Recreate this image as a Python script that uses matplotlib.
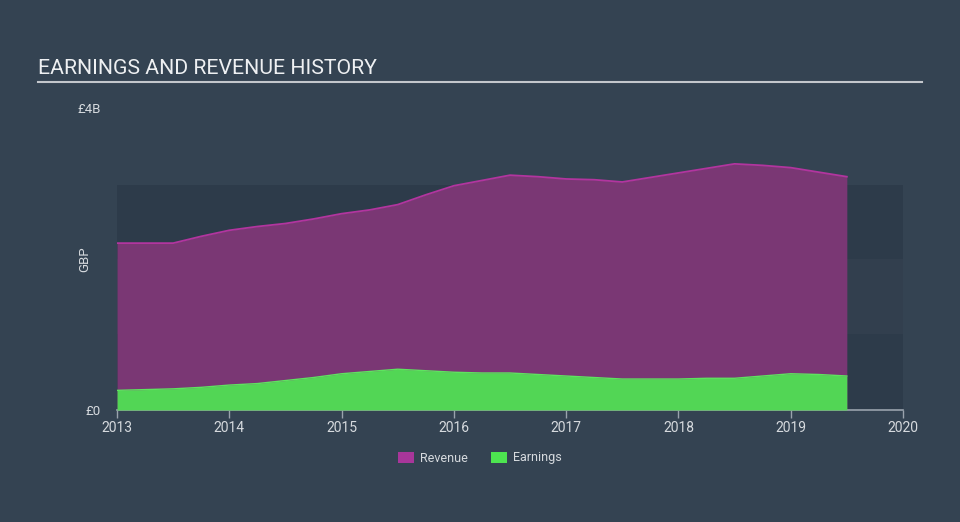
import matplotlib.pyplot as plt
from matplotlib.patches import Patch

# quarterly values, GBP billions
years = [2013.0, 2013.25, 2013.5, 2013.75, 2014.0, 2014.25, 2014.5, 2014.75,
         2015.0, 2015.25, 2015.5, 2015.75, 2016.0, 2016.25, 2016.5, 2016.75,
         2017.0, 2017.25, 2017.5, 2017.75, 2018.0, 2018.25, 2018.5, 2018.75,
         2019.0, 2019.25, 2019.5]
revenue = [2.21, 2.21, 2.21, 2.30, 2.38, 2.43, 2.47, 2.53,
           2.60, 2.65, 2.72, 2.85, 2.97, 3.04, 3.11, 3.09,
           3.06, 3.05, 3.02, 3.08, 3.14, 3.20, 3.26, 3.24,
           3.21, 3.15, 3.09]
earnings = [0.26, 0.27, 0.28, 0.30, 0.33, 0.35, 0.39, 0.43,
            0.48, 0.51, 0.54, 0.52, 0.50, 0.49, 0.49, 0.47,
            0.45, 0.43, 0.41, 0.41, 0.41, 0.42, 0.42, 0.45,
            0.48, 0.47, 0.45]
x_ticks = [2013, 2014, 2015, 2016, 2017, 2018, 2019, 2020]

plt.rcParams['font.family'] = ['Roboto', 'DejaVu Sans']

bg = '#344352'
text_col = '#d6dade'

fig = plt.figure(figsize=(9.6, 5.22), dpi=100, facecolor=bg)
ax = fig.add_axes([0.1219, 0.2146, 0.8187, 0.5785])
ax.set_facecolor(bg)

# background bands
ax.axhspan(0, 1, color='#2d3b4a', zorder=0, lw=0)
ax.axhspan(1, 2, color='#323f4e', zorder=0, lw=0)
ax.axhspan(2, 2.98, color='#2d3b4a', zorder=0, lw=0)

ax.fill_between(years, 0, revenue, color='#7a3774', lw=0, zorder=1)
ax.plot(years, revenue, color='#b2359f', lw=1.3, zorder=2)
ax.fill_between(years, 0, earnings, color='#52d655', lw=0, zorder=3)
ax.plot(years, earnings, color='#5ee35f', lw=1.0, zorder=4)

ax.set_xlim(2013, 2020)
ax.set_ylim(0, 4)
ax.set_xticks(x_ticks)
ax.set_xticklabels([str(y) for y in x_ticks], color=text_col, fontsize=10)
ax.set_yticks([0, 4])
ax.set_yticklabels(['£0', '£4B'], color=text_col, fontsize=9.5)
ax.tick_params(axis='y', length=0, pad=11.5)
ax.tick_params(axis='x', length=6, color='#9aa3ad', width=1, pad=2)
ax.set_ylabel('GBP', color=text_col, fontsize=9.5)
ax.yaxis.set_label_coords(-0.033, 0.5)

for s in ['top', 'right', 'left']:
    ax.spines[s].set_visible(False)
ax.spines['bottom'].set_color('#9aa3ad')
ax.spines['bottom'].set_linewidth(1.2)

# title with underline
fig.text(38 / 960, 1 - 68 / 522, 'EARNINGS AND REVENUE HISTORY', color='#eef0f2',
         fontsize=15.3, va='center', ha='left')
fig.add_artist(plt.Line2D([38 / 960, 922 / 960], [1 - 82 / 522, 1 - 82 / 522],
                          color='#c3c7cc', lw=1.5))

handles = [Patch(facecolor='#a8369a', label='Revenue'),
           Patch(facecolor='#4de550', label='Earnings')]
fig.legend(handles=handles, loc='center', bbox_to_anchor=(0.5, 1 - 458 / 522),
           ncol=2, frameon=False, fontsize=9, labelcolor=text_col,
           handlelength=1.3, handleheight=1.0, columnspacing=1.8, handletextpad=0.5)

fig.savefig('out.png', dpi=100, facecolor=bg)
